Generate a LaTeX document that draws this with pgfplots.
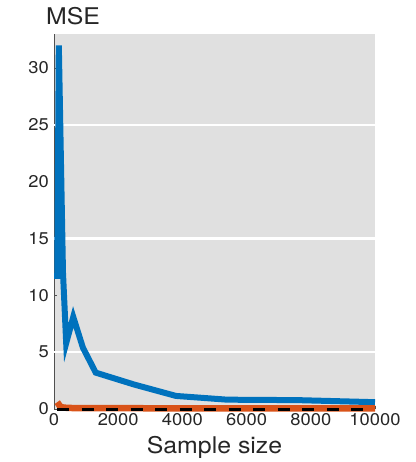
\documentclass[border=0pt]{standalone}
\usepackage{fontspec}
\setmainfont{TeX Gyre Heros}[FakeStretch=1.08]
\usepackage{pgfplots}
\pgfplotsset{compat=1.18}

\definecolor{bgray}{RGB}{224,224,224}
\definecolor{mblue}{RGB}{0,114,189}
\definecolor{morange}{RGB}{217,83,25}
\definecolor{axgray}{RGB}{80,80,80}

\begin{document}
\begin{tikzpicture}
\begin{axis}[
  scale only axis,
  width=321pt, height=375pt,
  xmin=0, xmax=10000,
  ymin=0, ymax=33,
  clip=false,
  axis x line=bottom, axis y line=left,
  axis line style={axgray, line width=0.8pt, -},
  axis background/.style={fill=bgray},
  xtick={0,2000,...,10000},
  ytick={0,5,...,30},
  scaled x ticks=false,
  /pgf/number format/1000 sep={},
  /pgf/number format/assume math mode=true,
  tick style={axgray, line width=0.8pt},
  major tick length=3pt,
  tick align=inside,
  ticklabel style={font=\fontsize{17}{17}\selectfont, color=black!85},
  yticklabel style={anchor=east, inner sep=0pt, xshift=-5pt},
  xticklabel style={anchor=north, inner sep=0pt, yshift=-4pt},
  extra y ticks={5,15,25},
  extra y tick labels={},
  extra y tick style={major tick length=0pt, grid=major,
    major grid style={white, line width=2.5pt}},
  xlabel={Sample size},
  xlabel style={at={(axis description cs:0.5,0)}, anchor=base, yshift=-44pt,
    font=\fontsize{23}{23}\selectfont, color=black!85},
]
\addplot[mblue, line width=6pt, line join=miter, miter limit=10] coordinates {
  (100,11.45) (150,32.0) (280,12.0) (380,5.8) (600,8.1) (900,5.4) (1300,3.2)
  (2500,2.15) (3800,1.15) (5400,0.82) (7600,0.78) (10000,0.6)
};
\addplot[morange, line width=6.5pt] coordinates {
  (100,0.6) (200,0.2) (300,0.12) (500,0.09) (1000,0.07) (10000,0.05)
};
\addplot[black, line width=3pt, dash pattern=on 12pt off 12.5pt] coordinates {
  (100,0) (10000,0)
};
\node[anchor=base, font=\fontsize{23}{23}\selectfont, text=black!85,
  xshift=19pt, yshift=9pt] at (rel axis cs:0,1) {MSE};
\end{axis}
\pgfresetboundingbox
\path (-54pt,-53pt) rectangle (361pt,409pt);
\end{tikzpicture}
\end{document}
